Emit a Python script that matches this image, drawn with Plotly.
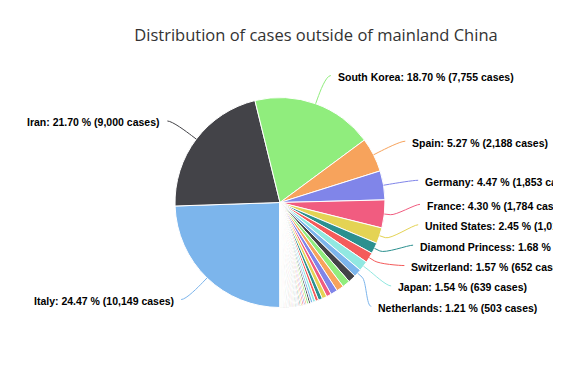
import math
import plotly.graph_objects as go

# ---------------- data ----------------
title_text = "Distribution of cases outside of mainland China"

countries = [
    "Italy", "Iran", "South Korea", "Spain", "Germany", "France", "United States",
    "Diamond Princess", "Switzerland", "Japan", "Netherlands",
    "Sweden", "Norway", "United Kingdom", "Denmark", "Belgium", "Austria", "Qatar",
    "Bahrain", "Singapore", "Malaysia", "Australia", "Hong Kong", "Canada", "Greece",
    "Israel", "Czechia", "Iceland", "United Arab Emirates", "Iraq", "Kuwait",
    "San Marino", "India", "Lebanon", "Egypt", "Finland", "Portugal", "Thailand",
    "Slovenia", "Brazil", "Philippines", "Taiwan", "Saudi Arabia", "Vietnam",
    "Ireland", "Indonesia", "Romania", "Russia", "Poland", "Chile", "Algeria",
    "Argentina", "Pakistan", "Croatia", "Serbia", "Oman", "Ecuador",
]
cases = [
    10149, 9000, 7755, 2188, 1853, 1784, 1016,
    696, 652, 639, 503,
    500, 489, 460, 442, 314, 302, 262,
    195, 178, 149, 127, 126, 100, 99,
    97, 94, 85, 74, 71, 69,
    63, 62, 61, 59, 59, 59, 59,
    57, 52, 49, 47, 45, 38,
    34, 34, 29, 28, 25, 23, 20,
    19, 19, 19, 18, 18, 16,
]
labeled_countries = countries[:11]

palette = ["#7cb5ec", "#434348", "#90ed7d", "#f7a35c", "#8085e9",
           "#f15c80", "#e4d354", "#2b908f", "#f45b5b", "#91e8e1"]

# ---------------- layout geometry (window pixels) ----------------
WIN_W, WIN_H = 561, 373
OFF = 8                      # default page margin around the plot div
W, H = WIN_W - OFF, WIN_H - OFF
CX, CY, R = 280.0, 202.5, 105.0
LABEL_DIST = 30.0
PAD = 5.0
CONN_PAD = 5.0
LINE_H = 20.4
START_DEG = 180.0
TITLE_FONT = "Open Sans"
LABEL_FONT = "Liberation Sans"

colors = [palette[i % len(palette)] for i in range(len(cases))]
total = float(sum(cases))


def px(x):
    return (x - OFF) / W


def py(y):
    return 1 - (y - OFF) / H


# mid angles (clockwise from 12 o'clock)
mids = []
acc = 0.0
for v in cases:
    mids.append(math.radians(START_DEG + (acc + v / 2.0) / total * 360.0))
    acc += v

RL = R + LABEL_DIST
items = []
for name in labeled_countries:
    i = countries.index(name)
    a = mids[i]
    left = math.sin(a) < 0
    items.append(dict(i=i, a=a, left=left, target=CY - RL * math.cos(a)))


def distribute(group):
    group = sorted(group, key=lambda d: d["target"])
    boxes = [dict(size=LINE_H, targets=[g["target"]], members=[g]) for g in group]
    overlapping = True
    while overlapping:
        for b in boxes:
            t = (min(b["targets"]) + max(b["targets"])) / 2.0
            b["pos"] = min(max(0.0, t - b["size"] / 2.0), WIN_H - b["size"])
        overlapping = False
        k = len(boxes) - 1
        while k > 0:
            if boxes[k - 1]["pos"] + boxes[k - 1]["size"] > boxes[k]["pos"]:
                boxes[k - 1]["size"] += boxes[k]["size"]
                boxes[k - 1]["targets"] += boxes[k]["targets"]
                boxes[k - 1]["members"] += boxes[k]["members"]
                boxes.pop(k)
                overlapping = True
            k -= 1
    for b in boxes:
        for j, m in enumerate(b["members"]):
            m["y"] = b["pos"] + LINE_H * j + LINE_H / 2.0


distribute([d for d in items if not d["left"]])
distribute([d for d in items if d["left"]])

annotations = []
shapes = []
for d in items:
    i, a, left, y = d["i"], d["a"], d["left"], d["y"]
    sgn = -1 if left else 1
    dy = max(-1.0, min(1.0, (y - CY) / RL))
    xf = CX + sgn * (math.cos(math.asin(dy)) * RL + PAD)
    pct = cases[i] / total * 100
    txt = f"{countries[i]}: {pct:.2f} % ({cases[i]:,} cases)"
    annotations.append(dict(
        x=px(xf + sgn * CONN_PAD), y=py(y + 1.5), xref="paper", yref="paper",
        text=f"<b>{txt}</b>", showarrow=False,
        xanchor="right" if left else "left", yanchor="middle",
        font=dict(family=LABEL_FONT, size=10.5, color="#000000"),
    ))
    tx, ty = CX + R * math.sin(a), CY - R * math.cos(a)
    bx, by = CX + (R + 6) * math.sin(a), CY - (R + 6) * math.cos(a)
    c1x, c1y = xf - sgn * 5, y
    c2x, c2y = 2 * bx - tx, 2 * by - ty
    path = (f"M {px(xf)},{py(y)} C {px(c1x)},{py(c1y)} {px(c2x)},{py(c2y)} "
            f"{px(bx)},{py(by)} L {px(tx)},{py(ty)}")
    shapes.append(dict(type="path", path=path, xref="paper", yref="paper",
                       line=dict(color=colors[i], width=1)))

fig = go.Figure(go.Pie(
    labels=countries, values=cases, sort=False, direction="clockwise",
    rotation=START_DEG, textinfo="none", showlegend=False,
    marker=dict(colors=colors, line=dict(color="#ffffff", width=1)),
    domain=dict(x=[px(CX - R), px(CX + R)], y=[py(CY + R), py(CY - R)]),
    hovertemplate="%{label}: %{value:,} cases<extra></extra>",
))

fig.update_layout(
    width=W, height=H, margin=dict(l=0, r=0, t=0, b=0),
    paper_bgcolor="#ffffff", plot_bgcolor="#ffffff",
    title=dict(text=title_text, x=px(316), xanchor="center", xref="paper",
               y=py(35), yref="container", yanchor="middle",
               font=dict(family=TITLE_FONT, size=16.5, color="#333333")),
    annotations=annotations, shapes=shapes,
)

fig.write_html("out.html")
